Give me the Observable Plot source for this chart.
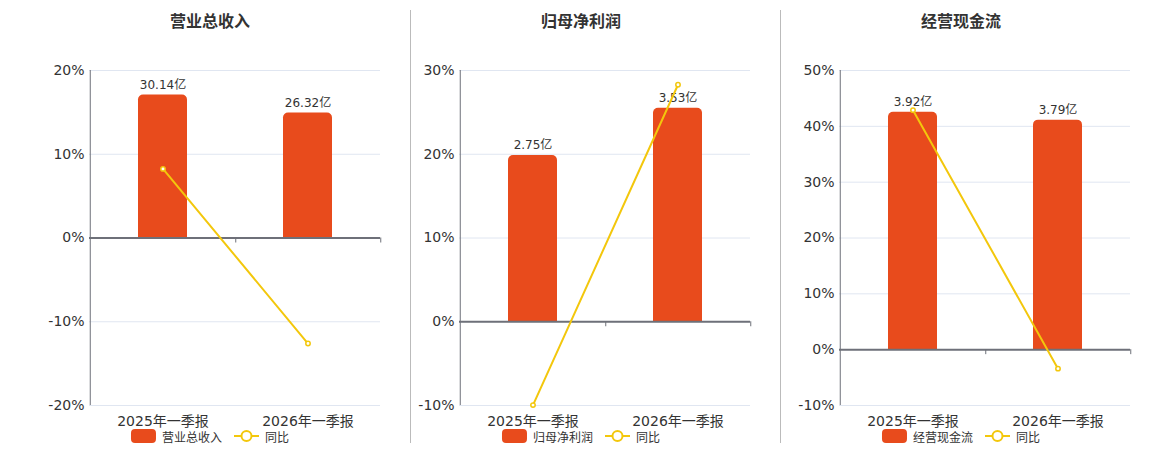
<!DOCTYPE html>
<html><head><meta charset="utf-8">
<script src="https://cdn.jsdelivr.net/npm/d3@7"></script>
<script src="https://cdn.jsdelivr.net/npm/@observablehq/plot@0.6"></script>
<style>
body{margin:0;background:#fff;font-family:"DejaVu Sans","Noto Sans CJK SC",sans-serif;}
#root{position:relative;width:1160px;height:450px;overflow:hidden;background:#fff;}
.title{position:absolute;top:12px;font-size:16px;font-weight:bold;color:#333;transform:translateX(-50%);white-space:nowrap;line-height:20px;}
.legend{position:absolute;top:429px;height:14px;display:flex;align-items:center;transform:translateX(-50%);font-size:12px;color:#333;white-space:nowrap;}
.legend .sw{width:25px;height:14px;border-radius:4px;background:#E84B1C;margin-right:6px;}
.legend .ln{margin-left:12px;margin-right:6px;display:block;}
.sep{position:absolute;top:10px;width:1px;height:433px;background:#bbb;}
.panel{position:absolute;top:45px;}
</style></head><body><div id="root"></div>
<script>
// ---- data ----
const categories = ["2025年一季报", "2026年一季报"];
const panelTitles = ["营业总收入", "归母净利润", "经营现金流"];
const revenueValues = [30.14, 26.32];   // 亿
const profitValues = [2.75, 3.53];      // 亿
const cashflowValues = [3.92, 3.79];    // 亿
const revenueYoy = [8.25, -12.6];       // %
const profitYoy = [-9.95, 28.3];        // %
const cashflowYoy = [42.9, -3.4];       // %
const yDomains = [[-20, 20], [-10, 30], [-10, 50]];
const yTickStep = 10;
// value of the hidden secondary (亿) axis at the top of the percent axis
const barAxisMax = [35.3, 4.155, 4.61];

const seriesValues = [revenueValues, profitValues, cashflowValues];
const seriesYoy = [revenueYoy, profitYoy, cashflowYoy];

// ---- layout ----
const panelOrigins = [0, 370, 750];
const panelCenters = [210, 581, 961];
const separators = [410, 780];
const W = 390, H = 385, ML = 89, MR = 10, MT = 25, MB = 25;
const BAR = "#E84B1C", LINE = "#F3C70C", AXIS = "#6E7079";

const root = document.getElementById("root");

panelTitles.forEach((title, i) => {
  const ox = panelOrigins[i];
  const [y0, y1] = yDomains[i];
  const yTicks = d3.range(y0, y1 + 0.001, yTickStep);
  const rows = categories.map((c, j) => ({
    cat: c,
    value: seriesValues[i][j],
    bar: seriesValues[i][j] / barAxisMax[i] * y1,
    yoy: seriesYoy[i][j]
  }));
  const step = (W - ML - MR) / categories.length;

  const chart = Plot.plot({
    width: W, height: H,
    marginLeft: ML, marginRight: MR, marginTop: MT, marginBottom: MB,
    style: {fontFamily: '"DejaVu Sans","Noto Sans CJK SC",sans-serif', fontSize: "14px", color: "#333", background: "transparent", overflow: "visible"},
    x: {domain: categories, paddingInner: 0.663, paddingOuter: 0.3315, label: null},
    y: {domain: [y0, y1], label: null},
    marks: [
      Plot.gridY(yTicks, {stroke: "#E0E6F1", strokeOpacity: 1}),
      Plot.axisY(yTicks, {tickSize: 0, tickPadding: 5, tickFormat: d => d + "%", fontSize: 14, fill: "#333"}),
      Plot.axisX({tickSize: 0, tickPadding: 11, fontSize: 14, fill: "#333"}),
      Plot.ruleX([categories[0]], {y1: y0, y2: y1, dx: -step / 2, stroke: AXIS, strokeWidth: 1}),
      Plot.barY(rows, {x: "cat", y: "bar", fill: BAR, ry1: 5}),
      Plot.ruleY([0], {stroke: AXIS, strokeWidth: 2}),
      Plot.ruleX(categories, {x: d => d, y1: 0, y2: 0, insetBottom: -5, dx: step / 2, stroke: AXIS, strokeWidth: 1}),
      Plot.text(rows, {x: "cat", y: "bar", text: d => d.value.toFixed(2) + "亿", lineAnchor: "bottom", dy: -6, fontSize: 12, fill: "#333"}),
      Plot.line(rows, {x: "cat", y: "yoy", stroke: LINE, strokeWidth: 2}),
      Plot.dot(rows, {x: "cat", y: "yoy", r: 2.2, fill: "#fff", stroke: LINE, strokeWidth: 1.5})
    ]
  });
  const wrap = document.createElement("div");
  wrap.className = "panel";
  wrap.style.left = ox + "px";
  wrap.appendChild(chart);
  root.appendChild(wrap);

  const t = document.createElement("div");
  t.className = "title";
  t.style.left = panelCenters[i] + "px";
  t.textContent = title;
  root.appendChild(t);

  const lg = document.createElement("div");
  lg.className = "legend";
  lg.style.left = panelCenters[i] + "px";
  lg.innerHTML = `<span class="sw"></span><span>${title}</span>` +
    `<svg class="ln" width="25" height="14"><line x1="0" y1="7" x2="25" y2="7" stroke="${LINE}" stroke-width="2"/>` +
    `<circle cx="12.5" cy="7" r="5" fill="#fff" stroke="${LINE}" stroke-width="2"/></svg><span>同比</span>`;
  root.appendChild(lg);
});

separators.forEach(x => {
  const s = document.createElement("div");
  s.className = "sep";
  s.style.left = x + "px";
  root.appendChild(s);
});
</script>
</body></html>
